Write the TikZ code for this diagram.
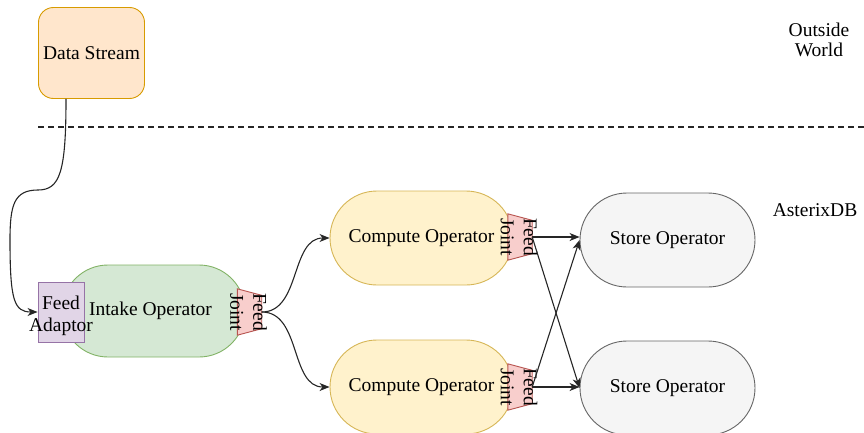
\documentclass[tikz,border=0pt]{standalone}
\usepackage{fontspec}
\setmainfont{Liberation Serif}
\newfontfamily\diagfont{Liberation Serif}
\usetikzlibrary{arrows.meta,shapes.misc}
\definecolor{dsfill}{HTML}{FFE6CC}\definecolor{dsdraw}{HTML}{D79B00}
\definecolor{infill}{HTML}{D5E8D4}\definecolor{indraw}{HTML}{82B366}
\definecolor{fafill}{HTML}{E1D5E7}\definecolor{fadraw}{HTML}{9673A6}
\definecolor{fjfill}{HTML}{F8CECC}\definecolor{fjdraw}{HTML}{B85450}
\definecolor{cofill}{HTML}{FFF2CC}\definecolor{codraw}{HTML}{D6B656}
\definecolor{stfill}{HTML}{F5F5F5}\definecolor{stdraw}{HTML}{666666}
\tikzset{
  txt/.style={font=\diagfont\fontsize{19.5}{22}\selectfont, align=center, inner sep=0pt},
  opbox/.style={rounded rectangle, draw, line width=0.9pt, minimum width=183pt, minimum height=94pt, txt},
  intakeop/.style={opbox, fill=infill, draw=indraw},
  computeop/.style={opbox, fill=cofill, draw=codraw},
  storeop/.style={opbox, fill=stfill, draw=stdraw, minimum width=175pt},
  jointbox/.style={minimum width=24pt, minimum height=46pt, inner sep=0pt},
  jointtxt/.style={txt, font=\diagfont\fontsize{19.5}{23}\selectfont, rotate=-90},
  conn/.style={line width=1.1pt, draw=black!85, -{Stealth[length=10pt,width=8pt,inset=3pt]}},
}
\newcommand{\feedjoint}[2]{%
  \node[jointbox] (#1) at #2 {};
  \draw[fill=fjfill, draw=fjdraw, line width=0.9pt] (#1.north west) -- ([yshift=-6.5pt]#1.north east) -- ([yshift=6.5pt]#1.south east) -- (#1.south west) -- cycle;
  \node[jointtxt] (#1t) at ([xshift=-1pt]#1.center) {Feed\\Joint};
}
\begin{document}
\begin{tikzpicture}[x=1pt,y=-1pt]
\useasboundingbox (0,0) rectangle (864,433);
% outside world
\node[txt, draw=dsdraw, fill=dsfill, line width=0.9pt, rounded corners=15pt, minimum width=106pt, minimum height=91pt] (ds) at (91.5,53) {Data Stream};
\draw[line width=1.1pt, draw=black!85, dash pattern=on 6pt off 4pt] (38,127) -- (864,127);
\node[txt, font=\diagfont\fontsize{19.5}{20.5}\selectfont] (ow) at (819,40) {Outside\\World};
\node[txt] (adb) at (815,210) {AsterixDB};
% intake
\node[intakeop, minimum height=92pt] (in) at (153.5,311) {\hspace*{-6pt}Intake Operator};
\node[txt, draw=fadraw, fill=fafill, line width=0.9pt, minimum width=46pt, minimum height=60pt] (fabox) at (61,312) {};
\node[txt] (fa) at (61,316) {Feed\\Adaptor};
\feedjoint{j0}{(249.5,312)}
% compute
\node[computeop] (c1) at (421.5,238) {Compute Operator};
\node[computeop] (c2) at (421.5,387) {Compute Operator};
\feedjoint{j1}{(520,237)}
\feedjoint{j2}{(520,387)}
% store
\node[storeop] (s1) at (667.5,240) {Store Operator};
\node[storeop] (s2) at (667.5,388) {Store Operator};
% connectors
\coordinate (k1) at (38,190);
\coordinate (k2) at (10,240);
\draw[conn] ([xshift=-25.5pt]ds.south) .. controls (66,172) and (60,190) .. (k1) .. controls (14,190) and (10,205) .. (k2) .. controls (10,300) and (14,312) .. (fabox.west);
\draw[conn] (j0.east) to[out=0,in=180] (c1.west);
\draw[conn] (j0.east) to[out=0,in=180] (c2.west);
\draw[conn] (j1.east) -- (j1.east -| s1.west);
\draw[conn] (j1.east) -- (s2.west);
\draw[conn] (j2.east) -- (j2.east -| s2.west);
\draw[conn] (j2.east) -- (s1.west);
\end{tikzpicture}
\end{document}
